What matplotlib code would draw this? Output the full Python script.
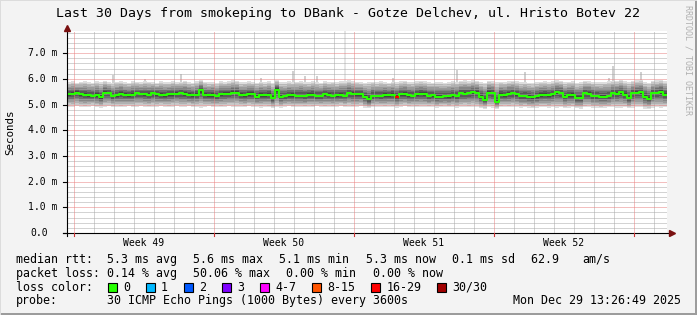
import numpy as np
import matplotlib
matplotlib.use("Agg")
import matplotlib.pyplot as plt
import matplotlib.transforms as mtrans
from matplotlib.patches import Rectangle

# ---------------- data ----------------
title = "Last 30 Days from smokeping to DBank - Gotze Delchev, ul. Hristo Botev 22"
y_label = "Seconds"
week_labels = ["Week 49", "Week 50", "Week 51", "Week 52"]
y_tick_values = [0, 1, 2, 3, 4, 5, 6, 7]
y_tick_labels = ["0.0", "1.0 m", "2.0 m", "3.0 m", "4.0 m", "5.0 m", "6.0 m", "7.0 m"]

# median rtt (ms), one value per 4.8 h bin, 150 bins over 30 days
median_ms = [
    5.40, 5.42, 5.46, 5.40, 5.38, 5.36, 5.35, 5.37, 5.28, 5.46,
    5.44, 5.34, 5.36, 5.42, 5.37, 5.36, 5.38, 5.43, 5.41, 5.40,
    5.38, 5.43, 5.41, 5.37, 5.36, 5.41, 5.40, 5.42, 5.43, 5.41,
    5.37, 5.36, 5.38, 5.55, 5.37, 5.36, 5.37, 5.33, 5.40, 5.42,
    5.41, 5.46, 5.45, 5.37, 5.36, 5.41, 5.42, 5.30, 5.37, 5.36,
    5.38, 5.24, 5.58, 5.30, 5.33, 5.36, 5.37, 5.34, 5.35, 5.34,
    5.37, 5.38, 5.33, 5.34, 5.40, 5.38, 5.35, 5.36, 5.37, 5.35,
    5.43, 5.42, 5.40, 5.39, 5.30, 5.20, 5.34, 5.35, 5.33, 5.37,
    5.36, 5.38, 5.30, 5.40, 5.41, 5.36, 5.35, 5.40, 5.42, 5.41,
    5.34, 5.36, 5.30, 5.31, 5.33, 5.32, 5.36, 5.34, 5.43, 5.42,
    5.44, 5.47, 5.45, 5.30, 5.18, 5.46, 5.44, 5.11, 5.38, 5.36,
    5.42, 5.43, 5.40, 5.33, 5.34, 5.30, 5.28, 5.32, 5.37, 5.38,
    5.36, 5.40, 5.48, 5.44, 5.30, 5.36, 5.37, 5.24, 5.26, 5.43,
    5.42, 5.35, 5.34, 5.31, 5.30, 5.33, 5.43, 5.42, 5.47, 5.38,
    5.24, 5.43, 5.45, 5.47, 5.30, 5.23, 5.43, 5.44, 5.50, 5.38,
]

# upper / lower edge of the main smoke band (ms)
band_hi_ms = [
    5.86, 5.90, 5.84, 5.88, 5.92, 5.87, 5.85, 5.90, 5.88, 5.93,
    5.86, 5.84, 5.89, 5.91, 5.87, 5.85, 5.90, 5.88, 5.86, 5.92,
    5.89, 5.87, 5.84, 5.90, 5.88, 5.86, 5.91, 5.87, 5.89, 5.93,
    5.88, 5.85, 5.90, 5.96, 5.89, 5.86, 5.88, 5.84, 5.90, 5.87,
    5.91, 5.94, 5.92, 5.86, 5.88, 5.90, 5.87, 5.85, 5.89, 5.86,
    5.90, 5.84, 5.95, 5.88, 5.86, 5.90, 5.87, 5.89, 5.92, 5.88,
    5.86, 5.90, 5.88, 5.85, 5.91, 5.87, 5.89, 5.86, 5.90, 5.92,
    5.95, 5.90, 5.88, 5.86, 5.84, 5.87, 5.89, 5.86, 5.90, 5.88,
    5.85, 5.89, 5.87, 5.90, 5.92, 5.88, 5.86, 5.90, 5.93, 5.90,
    5.87, 5.85, 5.88, 5.86, 5.84, 5.87, 5.90, 5.88, 5.92, 5.94,
    5.91, 5.95, 5.93, 5.88, 5.85, 5.92, 5.90, 5.86, 5.89, 5.87,
    5.91, 5.93, 5.90, 5.86, 5.88, 5.85, 5.84, 5.87, 5.89, 5.90,
    5.88, 5.91, 5.95, 5.93, 5.87, 5.89, 5.90, 5.85, 5.86, 5.92,
    5.91, 5.88, 5.87, 5.86, 5.89, 5.90, 5.93, 5.92, 5.96, 5.90,
    5.86, 5.92, 5.94, 5.96, 5.88, 5.85, 5.92, 5.94, 5.97, 5.92,
]
band_lo_ms = [
    4.92, 4.90, 4.93, 4.91, 4.89, 4.92, 4.94, 4.90, 4.88, 4.91,
    4.93, 4.90, 4.92, 4.89, 4.91, 4.93, 4.90, 4.92, 4.94, 4.91,
    4.89, 4.92, 4.90, 4.93, 4.91, 4.89, 4.92, 4.94, 4.90, 4.91,
    4.93, 4.90, 4.92, 4.88, 4.91, 4.93, 4.90, 4.92, 4.89, 4.91,
    4.94, 4.90, 4.92, 4.91, 4.89, 4.93, 4.90, 4.92, 4.88, 4.91,
    4.90, 4.86, 4.89, 4.88, 4.91, 4.93, 4.90, 4.92, 4.91, 4.89,
    4.92, 4.90, 4.93, 4.91, 4.89, 4.92, 4.90, 4.91, 4.93, 4.90,
    4.92, 4.89, 4.91, 4.93, 4.88, 4.85, 4.90, 4.92, 4.91, 4.89,
    4.92, 4.90, 4.87, 4.91, 4.93, 4.90, 4.92, 4.89, 4.91, 4.90,
    4.89, 4.91, 4.88, 4.90, 4.92, 4.89, 4.91, 4.88, 4.90, 4.92,
    4.89, 4.91, 4.90, 4.86, 4.84, 4.89, 4.88, 4.83, 4.90, 4.91,
    4.89, 4.92, 4.90, 4.88, 4.89, 4.87, 4.86, 4.88, 4.90, 4.89,
    4.88, 4.90, 4.87, 4.89, 4.86, 4.88, 4.90, 4.85, 4.84, 4.89,
    4.90, 4.88, 4.87, 4.86, 4.88, 4.89, 4.90, 4.88, 4.86, 4.89,
    4.85, 4.88, 4.90, 4.89, 4.84, 4.83, 4.88, 4.90, 4.87, 4.89,
]

# isolated slow pings (bin index, highest rtt in ms)
spike_bins = [11, 19, 28, 48, 56, 59, 62, 69, 81, 97, 114, 135, 136, 143]
spike_top_ms = [6.15, 6.00, 6.20, 6.02, 6.30, 6.12, 6.10, 7.90, 6.05, 6.35, 6.28, 6.05, 6.48, 6.27]

# bins with packet loss (lost pings out of 30)
loss_bins = [82]
loss_counts = [16]

legend_loss_labels = ["0", "1", "2", "3", "4-7", "8-15", "16-29", "30/30"]
legend_loss_colors = ["#26ff00", "#00b8ff", "#0059ff", "#7e00ff", "#ff00ff", "#ff5500", "#ff0000", "#a10000"]
legend_loss_upper = [0, 1, 2, 3, 7, 15, 29, 30]

rtt_row = ["5.3 ms avg", "5.6 ms max", "5.1 ms min", "5.3 ms now", "0.1 ms sd", "62.9 ", "am/s"]
loss_row = ["0.14 % avg", "50.06 % max", "0.00 % min", "0.00 % now"]
probe_text = "30 ICMP Echo Pings (1000 Bytes) every 3600s"
date_text = "Mon Dec 29 13:26:49 2025"

# ---------------- figure ----------------
W, H, DPI = 697, 315, 100
MONO = "DejaVu Sans Mono"
plt.rcParams["font.family"] = MONO
plt.rcParams["lines.scale_dashes"] = False

fig = plt.figure(figsize=(W / DPI, H / DPI), dpi=DPI, facecolor="#f3f3f3")

def fx(px):
    return px / W

def fy(py):
    return 1 - py / H

PX_PER_MS = 25.7
ax = fig.add_axes([fx(67), fy(233), 600 / W, 202 / H])
ax.set_facecolor("white")
ax.set_xlim(0, 30)
ymax = 202 / PX_PER_MS
ax.set_ylim(0, ymax)
for s in ax.spines.values():
    s.set_visible(False)
ax.set_xticks([])
ax.set_yticks([])

n = len(median_ms)
days = 30.0
bw = days / n
edges = np.arange(n + 1) * bw
med = np.array(median_ms)
hi = np.array(band_hi_ms)
lo = np.array(band_lo_ms)

def ext(a):
    return np.append(a, a[-1])

# smoke layers (outer light -> inner dark)
L = 8
grays = np.linspace(0.87, 0.26, L)
for k in range(L):
    f = (L - k) / L
    up = med + (hi - med) * f
    dn = med - (med - lo) * f
    g = grays[k]
    ax.fill_between(edges, ext(dn), ext(up), step="post", color=(g, g, g), lw=0, zorder=2)

# spikes
for b, top in zip(spike_bins, spike_top_ms):
    c = "#e6e6e6" if top > 7 else "#d0d0d0"
    ax.bar(edges[b] + bw / 2, top - hi[b], bottom=hi[b], width=bw * 0.5, color=c, lw=0, zorder=1.9)

# grid (drawn over smoke like rrdtool)
DOT = (0, (0.72, 0.72))
first_major = 0.35
major_x = first_major + np.arange(0, 30, 7)
minor_x = [v for v in first_major + np.arange(0, 30) if not np.any(np.isclose(v, major_x))]
minor_y = [v for v in np.arange(0.2, ymax, 0.2) if abs(v - round(v)) > 1e-6]
ax.vlines(minor_x, 0, ymax, colors="#a8a8a8", lw=0.72, linestyles=DOT, zorder=3)
ax.hlines(minor_y, 0, 30, colors="#a8a8a8", lw=0.72, linestyles=DOT, zorder=3)
ax.vlines(major_x, 0, ymax, colors="#e88080", lw=0.72, linestyles=DOT, zorder=3.1)
ax.hlines(y_tick_values[1:], 0, 30, colors="#e88080", lw=0.72, linestyles=DOT, zorder=3.1)

# median line, coloured by loss
ax.step(edges, ext(med), where="post", color=legend_loss_colors[0], lw=1.5, zorder=4, solid_capstyle="butt")
for b, cnt in zip(loss_bins, loss_counts):
    ci = next(i for i, u in enumerate(legend_loss_upper) if cnt <= u)
    ax.hlines(med[b], edges[b], edges[b + 1], color=legend_loss_colors[ci], lw=1.6, zorder=5)

# axes lines and arrows
ax.plot([0, 0], [-0.1, 7.95], color="black", lw=0.8, clip_on=False, zorder=6)
ax.plot([-0.2, 30.2], [0, 0], color="black", lw=0.8, clip_on=False, zorder=6)
ax.plot([0], [7.97], marker="^", ms=5, color="#7a1010", clip_on=False, zorder=7, mec="#7a1010")
ax.plot([30.25], [0], marker=">", ms=5, color="#7a1010", clip_on=False, zorder=7, mec="#7a1010")
for yv in y_tick_values:
    ax.plot([-0.2, 0], [yv, yv], color="black", lw=0.8, clip_on=False, zorder=6)
for xv in major_x:
    ax.plot([xv, xv], [-0.1, 0], color="#cc3333", lw=0.8, clip_on=False, zorder=6)

# y tick labels
ytr = mtrans.offset_copy(ax.get_yaxis_transform(), fig=fig, x=-10, y=0, units="dots")
ytr0 = mtrans.offset_copy(ax.get_yaxis_transform(), fig=fig, x=-19, y=0, units="dots")
for v, lab in zip(y_tick_values, y_tick_labels):
    ax.text(0, v, lab, transform=ytr0 if v == 0 else ytr, ha="right", va="center", fontsize=7, color="#000000")

# x tick labels
xtr = mtrans.offset_copy(ax.get_xaxis_transform(), fig=fig, x=0, y=-10, units="dots")
for xv, lab in zip(major_x + 3.5, week_labels):
    ax.text(xv, 0, lab, transform=xtr, ha="center", va="center", fontsize=7)

# titles
fig.text(0.5, fy(14), title, ha="center", va="center", fontsize=9.5, color="#000000")
fig.text(fx(10), fy(132), y_label, rotation=90, ha="center", va="center", fontsize=7.8)
fig.text(fx(688), fy(5), "RRDTOOL / TOBI OETIKER", rotation=-90, ha="center", va="top",
         fontsize=6, color="#b0b0b0")

# legend
LF = 8.4
CW = 0.602 * LF * DPI / 72
GAP = 16
X0 = 107
rows_y = [259.5, 273.3, 287.2, 300.8]

fig.text(fx(16), fy(rows_y[0]), "median rtt:", ha="left", va="center", fontsize=LF)
x = X0
for tok in rtt_row:
    fig.text(fx(x), fy(rows_y[0]), tok, ha="left", va="center", fontsize=LF)
    x += len(tok) * CW + GAP

fig.text(fx(16), fy(rows_y[1]), "packet loss:", ha="left", va="center", fontsize=LF)
x = X0
for tok in loss_row:
    fig.text(fx(x), fy(rows_y[1]), tok, ha="left", va="center", fontsize=LF)
    x += len(tok) * CW + GAP

fig.text(fx(16), fy(rows_y[2]), "loss color:", ha="left", va="center", fontsize=LF)
x = X0 + 1
for lab, col in zip(legend_loss_labels, legend_loss_colors):
    fig.patches.append(Rectangle((fx(x), fy(rows_y[2] + 4.5)), 9 / W, 9 / H, transform=fig.transFigure,
                                 facecolor=col, edgecolor="black", lw=0.8))
    fig.text(fx(x + 15), fy(rows_y[2]), lab, ha="left", va="center", fontsize=LF)
    x += 15 + len(lab) * CW + GAP

fig.text(fx(16), fy(rows_y[3]), "probe:", ha="left", va="center", fontsize=LF)
fig.text(fx(X0), fy(rows_y[3]), probe_text, ha="left", va="center", fontsize=LF)
fig.text(fx(681), fy(rows_y[3]), date_text, ha="right", va="center", fontsize=LF)

# 3D frame
fig.patches.append(Rectangle((0, 0), 1, 2 / H, transform=fig.transFigure, color="#9c9c9c", lw=0))
fig.patches.append(Rectangle((1 - 2 / W, 0), 2 / W, 1, transform=fig.transFigure, color="#9c9c9c", lw=0))
fig.patches.append(Rectangle((0, 1 - 1 / H), 1, 1 / H, transform=fig.transFigure, color="#dcdcdc", lw=0))
fig.patches.append(Rectangle((0, 0), 1 / W, 1, transform=fig.transFigure, color="#dcdcdc", lw=0))

fig.savefig("out.png", dpi=DPI, facecolor=fig.get_facecolor())
